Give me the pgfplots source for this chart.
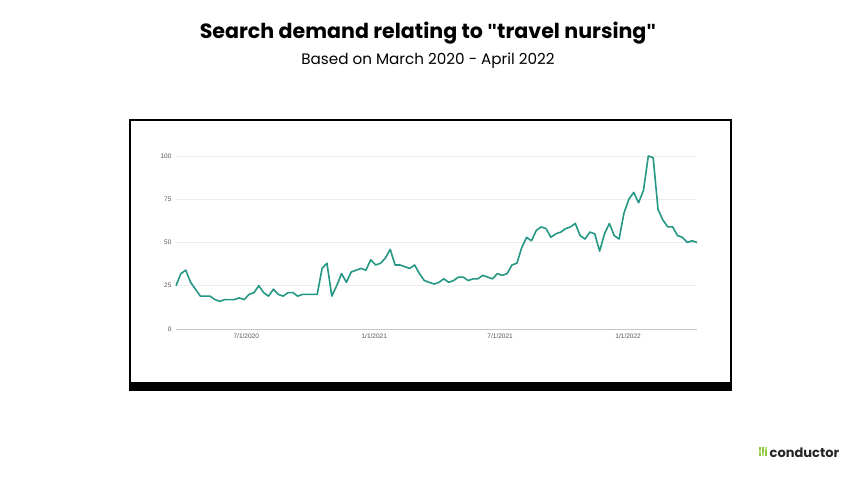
\documentclass[border=0pt]{standalone}
\usepackage{pgfplots}
\pgfplotsset{compat=1.18}
\usepackage{fontspec}
\setmainfont{Poppins}
\newfontfamily\arialfont{Liberation Sans}
\newcommand{\sq}{{\arialfont\char34}}
\definecolor{lineteal}{RGB}{36,152,132}
\definecolor{gridc}{RGB}{236,236,236}
\definecolor{basec}{RGB}{200,200,200}
\definecolor{tickc}{RGB}{85,85,85}
\definecolor{lime}{RGB}{141,198,63}
\definecolor{lime2}{RGB}{190,225,130}
\begin{document}
\begin{tikzpicture}[x=1pt,y=1pt]
\useasboundingbox[fill=white] (0,0) rectangle (856,485);
% titles
\node[anchor=base,font=\bfseries\fontsize{20.6}{24}\selectfont] at (428,446.5) {Search demand relating to \sq travel nursing\sq};
\node[anchor=base,font=\fontsize{15.2}{18}\selectfont] at (428,420.5) {Based on March 2020 - April 2022};
% frame
\fill[black] (129,94) rectangle (732,103);
\draw[line width=2pt] (130,95) rectangle (731,365);
\begin{axis}[
  at={(176pt,156pt)}, anchor=south west,
  scale only axis, width=521pt, height=173pt,
  xmin=81, xmax=830, ymin=0, ymax=100,
  axis line style={draw=none},
  major tick length=0pt,
  xtick={182,366,547,731},
  xticklabels={7/1/2020,1/1/2021,7/1/2021,1/1/2022},
  ytick={25,50,75,100},
  extra y ticks={0},
  extra y tick style={grid style={basec,line width=1pt}},
  ymajorgrids, grid style={gridc,line width=0.9pt},
  /pgf/number format/assume math mode=true,
  tick label style={font=\arialfont\fontsize{6.5}{7}\selectfont, text=tickc},
  xticklabel style={yshift=-1.5pt},
  yticklabel style={xshift=-1pt},
  clip=false,
]
\addplot[lineteal, line width=1.6pt, line join=round] coordinates {
(81,25)(88,32)(95,34)(102,27)(109,23)(116,19)(123,19)(130,19)(137,17)(144,16)
(151,17)(158,17)(165,17)(172,18)(179,17)(186,20)(193,21)(200,25)(207,21)(214,19)
(221,23)(228,20)(235,19)(242,21)(249,21)(256,19)(263,20)(270,20)(277,20)(284,20)
(291,35)(298,38)(305,19)(312,25)(319,32)(326,27)(333,33)(340,34)(347,35)(354,34)
(361,40)(368,37)(375,38)(382,41)(389,46)(396,37)(403,37)(410,36)(417,35)(424,37)
(431,32)(438,28)(445,27)(452,26)(459,27)(466,29)(473,27)(480,28)(487,30)(494,30)
(501,28)(508,29)(515,29)(522,31)(529,30)(536,29)(543,32)(550,31)(557,32)(564,37)
(571,38)(578,47)(585,53)(592,51)(599,57)(606,59)(613,58)(620,53)(627,55)(634,56)
(641,58)(648,59)(655,61)(662,54)(669,52)(676,56)(683,55)(690,45)(697,55)(704,61)
(711,54)(718,52)(725,67)(732,75)(739,79)(746,73)(753,80)(760,100)(767,99)(774,69)
(781,63)(788,59)(795,59)(802,54)(809,53)(816,50)(823,51)(830,50)
};
\end{axis}
% logo
\foreach \i/\j/\c in {0/0/lime,1/0/lime2,2/0/lime,0/1/lime2,1/1/lime,2/1/lime,0/2/lime,1/2/lime,2/2/lime2}{
  \fill[\c] (758.5+\i*3,29.5+\j*3) rectangle ++(2.1,2.1);
}
\node[anchor=base west,inner sep=0pt,font=\bfseries\fontsize{13}{15}\selectfont,text=black!85] at (769.5,28) {conductor};
\end{tikzpicture}
\end{document}
